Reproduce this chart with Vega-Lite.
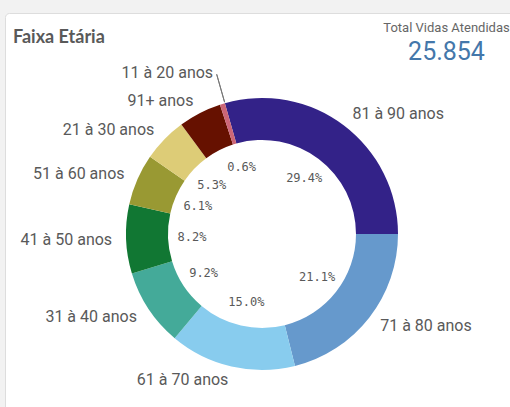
{
  "$schema": "https://vega.github.io/schema/vega-lite/v6.json",
  "background": "#f2f2f2",
  "padding": {"left": 4, "top": 12, "right": -8, "bottom": -47},
  "title": {
    "text": "Total Vidas Atendidas",
    "subtitle": "25.854",
    "anchor": "end",
    "align": "center",
    "dx": -73,
    "offset": -52,
    "font": "Roboto",
    "fontSize": 13,
    "fontWeight": "normal",
    "color": "#666666",
    "subtitleFont": "Roboto",
    "subtitleFontSize": 25,
    "subtitleColor": "#4477aa",
    "subtitlePadding": 5,
    "zindex": 1
  },
  "datasets": {
    "faixas": [
      {"ordem": 1, "faixa": "81 à 90 anos", "pct": 0.294},
      {"ordem": 2, "faixa": "71 à 80 anos", "pct": 0.211},
      {"ordem": 3, "faixa": "61 à 70 anos", "pct": 0.150},
      {"ordem": 4, "faixa": "31 à 40 anos", "pct": 0.092},
      {"ordem": 5, "faixa": "41 à 50 anos", "pct": 0.082},
      {"ordem": 6, "faixa": "51 à 60 anos", "pct": 0.061},
      {"ordem": 7, "faixa": "21 à 30 anos", "pct": 0.053},
      {"ordem": 8, "faixa": "91+ anos", "pct": 0.051},
      {"ordem": 9, "faixa": "11 à 20 anos", "pct": 0.006}
    ]
  },
  "vconcat": [
    {
      "title": {
        "text": "Faixa Etária",
        "anchor": "start",
        "frame": "group",
        "dx": 8,
        "offset": -34,
        "font": "Lato",
        "fontSize": 18,
        "fontWeight": "bold",
        "color": "#595959",
        "zindex": 1
      },
      "width": 514,
      "height": 442,
      "view": {"fill": "#ffffff", "stroke": "#dddddd", "cornerRadius": 4},
      "data": {"name": "faixas"},
      "layer": [
        {
          "mark": {"type": "arc", "radius": 136, "radius2": 94},
          "encoding": {
            "theta": {"field": "pct", "type": "quantitative", "stack": true,
              "scale": {"domain": [0, 1], "range": [-0.27646, 6.00673]}},
            "order": {"field": "ordem", "type": "quantitative"},
            "color": {"field": "faixa", "type": "nominal", "legend": null,
              "scale": {
                "domain": ["81 à 90 anos", "71 à 80 anos", "61 à 70 anos", "31 à 40 anos", "41 à 50 anos", "51 à 60 anos", "21 à 30 anos", "91+ anos", "11 à 20 anos"],
                "range": ["#332288", "#6699cc", "#88ccee", "#44aa99", "#117733", "#999933", "#ddcc77", "#661100", "#cc6677"]
              }}
          }
        },
        {
          "mark": {"type": "text", "radius": 70, "font": "DejaVu Sans Mono", "fontSize": 12, "color": "#595959", "align": "center", "baseline": "middle"},
          "encoding": {
            "theta": {"field": "pct", "type": "quantitative", "stack": true},
            "order": {"field": "ordem", "type": "quantitative"},
            "detail": {"field": "faixa", "type": "nominal"},
            "text": {"condition": {"test": "datum.ordem !== 8", "field": "pct", "type": "quantitative", "format": ".1%"}, "value": ""}
          }
        },
        {
          "mark": {"type": "text", "radius": 150, "font": "Roboto", "fontSize": 16, "color": "#595959", "align": "left", "baseline": "middle"},
          "encoding": {
            "theta": {"field": "pct", "type": "quantitative", "stack": true},
            "order": {"field": "ordem", "type": "quantitative"},
            "detail": {"field": "faixa", "type": "nominal"},
            "text": {"condition": {"test": "datum.ordem <= 2", "field": "faixa", "type": "nominal"}, "value": ""}
          }
        },
        {
          "mark": {"type": "text", "radius": 150, "font": "Roboto", "fontSize": 16, "color": "#595959", "align": "right", "baseline": "middle"},
          "encoding": {
            "theta": {"field": "pct", "type": "quantitative", "stack": true},
            "order": {"field": "ordem", "type": "quantitative"},
            "detail": {"field": "faixa", "type": "nominal"},
            "text": {"condition": {"test": "datum.ordem >= 3 && datum.ordem <= 8", "field": "faixa", "type": "nominal"}, "value": ""}
          }
        },
        {
          "mark": {"type": "text", "radius": 168, "font": "Roboto", "fontSize": 16, "color": "#595959", "align": "right", "baseline": "middle"},
          "encoding": {
            "theta": {"field": "pct", "type": "quantitative", "stack": true},
            "order": {"field": "ordem", "type": "quantitative"},
            "detail": {"field": "faixa", "type": "nominal"},
            "text": {"condition": {"test": "datum.ordem === 9", "field": "faixa", "type": "nominal"}, "value": ""}
          }
        },
        {
          "transform": [
            {"stack": "pct", "groupby": [], "sort": [{"field": "ordem"}], "as": ["s0", "s1"]},
            {"filter": "datum.ordem === 9"}
          ],
          "mark": {"type": "arc", "filled": false, "stroke": "#777777", "strokeWidth": 1, "radius": 166, "radius2": 137},
          "encoding": {
            "theta": {"field": "s1", "type": "quantitative", "stack": null},
            "theta2": {"field": "s1"}
          }
        }
      ]
    }
  ],
  "config": {
    "concat": {"spacing": 0}
  }
}
